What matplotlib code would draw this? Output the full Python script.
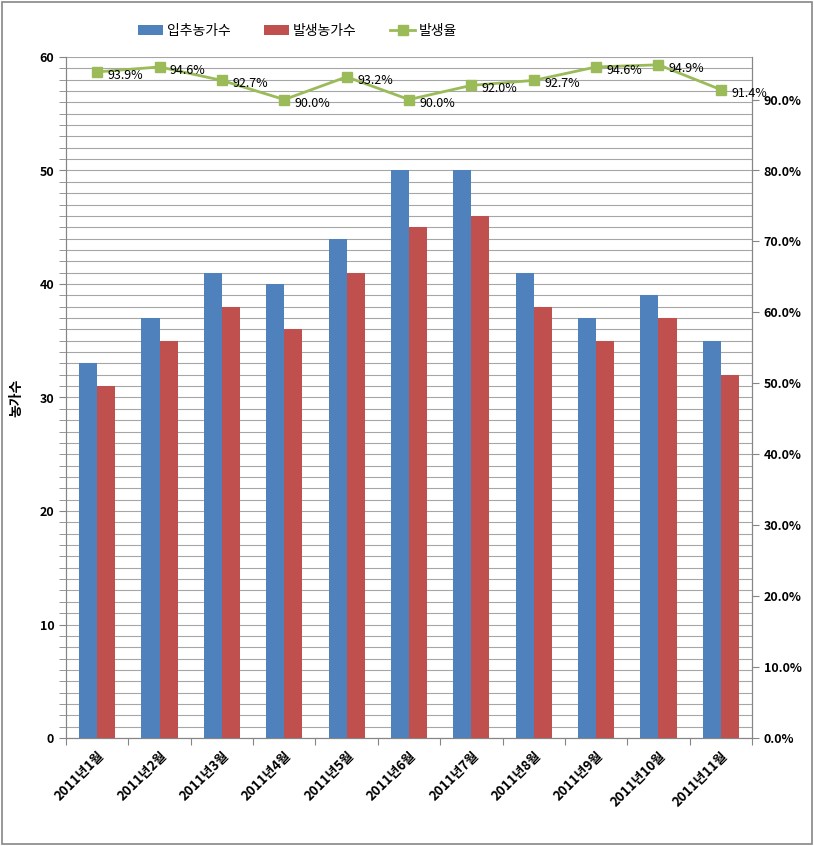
import numpy as np
import matplotlib
matplotlib.use("Agg")
import matplotlib.pyplot as plt
from matplotlib.ticker import MultipleLocator, FuncFormatter
from matplotlib.patches import Rectangle

plt.rcParams['font.family'] = ['Noto Sans CJK KR', 'DejaVu Sans']

months = ["2011년1월", "2011년2월", "2011년3월", "2011년4월", "2011년5월", "2011년6월",
          "2011년7월", "2011년8월", "2011년9월", "2011년10월", "2011년11월"]
entered = [33, 37, 41, 40, 44, 50, 50, 41, 37, 39, 35]
outbreak = [31, 35, 38, 36, 41, 45, 46, 38, 35, 37, 32]
rate = [0.939, 0.946, 0.927, 0.900, 0.932, 0.900, 0.920, 0.927, 0.946, 0.949, 0.914]

blue = "#4F81BD"
red = "#C0504D"
green = "#9BBB59"
grid_c = "#A6A6A6"
axis_c = "#868686"

fig = plt.figure(figsize=(8.14, 8.46), dpi=100)
ax = fig.add_axes([66 / 814, 1 - 738 / 846, (752 - 66) / 814, (738 - 57) / 846])
ax2 = ax.twinx()

x = np.arange(len(months))
w = 0.29
ax.bar(x - w / 2, entered, w, color=blue, label="입추농가수", zorder=3)
ax.bar(x + w / 2, outbreak, w, color=red, label="발생농가수", zorder=3)

ax.set_xlim(-0.5, len(months) - 0.5)
ax.set_ylim(0, 60)
ax.yaxis.set_major_locator(MultipleLocator(10))
ax.yaxis.set_minor_locator(MultipleLocator(1))
ax.grid(True, which="both", axis="y", color=grid_c, lw=0.8, zorder=0)
ax.set_axisbelow(True)

ax.set_xticks(np.arange(-0.5, len(months), 1))
ax.set_xticklabels([])
ax.set_xticks(x, minor=True)
ax.set_xticklabels(months, minor=True, rotation=45, ha="right", va="top",
                   rotation_mode="anchor", fontsize=9.5, fontweight="bold")
ax.tick_params(axis="x", which="minor", length=0, pad=8)
ax.tick_params(axis="x", which="major", length=5, color=axis_c, direction="out")
ax.tick_params(axis="y", which="both", length=5, color=axis_c, direction="out",
               labelsize=9)
for t in ax.get_yticklabels():
    t.set_fontweight("bold")
ax.set_ylabel("농가수", fontsize=10, fontweight="bold")
ax.yaxis.set_label_coords(-0.062, 0.5)

ax2.plot(x, rate, color=green, lw=2, marker="s", markersize=7, label="발생율", zorder=4)
for xi, r in zip(x, rate):
    ax2.annotate(f"{r * 100:.1f}%", (xi, r), xytext=(7.5, -2.5), textcoords="offset points",
                 ha="left", va="center", fontsize=9, zorder=5)
ax2.set_ylim(0, 0.96)
ax2.set_yticks(np.arange(0, 0.91, 0.1))
ax2.yaxis.set_major_formatter(FuncFormatter(lambda v, p: f"{v * 100:.1f}%"))
ax2.tick_params(axis="y", length=5, color=axis_c, direction="out", labelsize=9)
for t in ax2.get_yticklabels():
    t.set_fontweight("bold")

for a in (ax, ax2):
    for s in a.spines.values():
        s.set_color(axis_c)
    a.spines["top"].set_visible(False)

h1, l1 = ax.get_legend_handles_labels()
h2, l2 = ax2.get_legend_handles_labels()
fig.legend(h1 + h2, l1 + l2, loc="center left", bbox_to_anchor=(125 / 814, 1 - 31 / 846),
           ncol=3, frameon=False, fontsize=10, columnspacing=2.4, handlelength=1.8,
           handletextpad=0.3)

fig.patches.append(Rectangle((0.002, 0.002), 0.996, 0.996, transform=fig.transFigure,
                             fill=False, edgecolor=axis_c, lw=1.2))

fig.savefig("out.png", dpi=100)
